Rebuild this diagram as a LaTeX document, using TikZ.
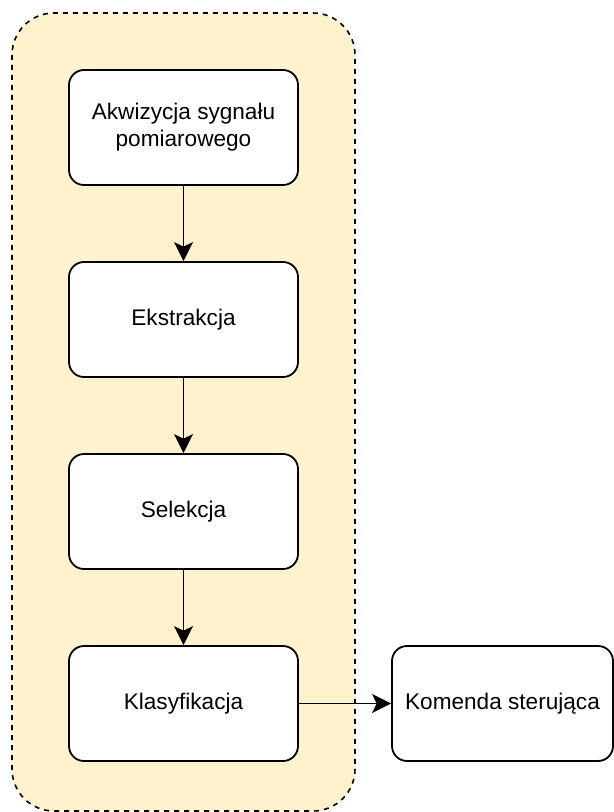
\documentclass[tikz,border=0pt]{standalone}
\usepackage{fontspec}
\setmainfont{Liberation Sans}
\usetikzlibrary{arrows.meta}
\definecolor{groupfill}{HTML}{FFF2CC}
\begin{document}
\begin{tikzpicture}[x=0.5pt,y=-0.5pt,
  stagebox/.style={draw=black,line width=0.9pt,fill=white,rounded corners=7.5pt,
    minimum width=114.5pt,minimum height=57.5pt,inner sep=0pt,align=center,
    font=\fontsize{11.3pt}{13.6pt}\selectfont},
  flow/.style={draw=black,line width=0.95pt,-{Stealth[length=9.5pt,width=9.5pt,inset=2.3pt]}}]
\useasboundingbox (0,0) rectangle (614,812);
% processing pipeline container
\draw[fill=groupfill,draw=black,line width=0.8pt,dash pattern=on 2.5pt off 2.5pt,
  rounded corners=21pt] (12,13) rectangle (355,811);
\node[stagebox] (acq) at (183.5,127.5) {Akwizycja sygnału\\pomiarowego};
\node[stagebox] (ext) at (183.5,319.5) {Ekstrakcja};
\node[stagebox] (sel) at (183.5,511.5) {Selekcja};
\node[stagebox] (cls) at (183.5,703.5) {Klasyfikacja};
\node[stagebox,minimum width=110.5pt] (cmd) at (502.5,703.5) {Komenda sterująca};
\draw[flow] (acq) -- (ext);
\draw[flow] (ext) -- (sel);
\draw[flow] (sel) -- (cls);
\draw[flow] (cls) -- (cmd);
\end{tikzpicture}
\end{document}
